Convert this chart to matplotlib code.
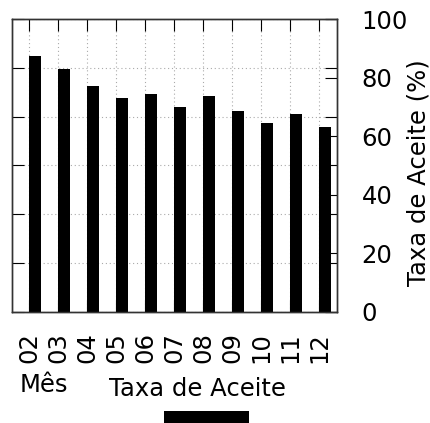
import matplotlib.pyplot as plt

MESES = ["02", "03", "04", "05", "06", "07", "08", "09", "10", "11", "12"]
TAXA_ACEITE = [87.5, 83.0, 77.2, 73.1, 74.4, 69.9, 73.6, 68.7, 64.6, 67.4, 63.2]
GRID_TICKS = [0, 20, 40, 60, 80, 100, 120]
RIGHT_TICKS = [0, 20, 40, 60, 80, 100]

FS = 17.5

fig = plt.figure(figsize=(4.3, 4.23), dpi=100)
ax = fig.add_axes([12 / 430, 1 - 311.7 / 423, 324.7 / 430, 292.7 / 423])
ax2 = ax.twinx()

pos = list(range(len(MESES)))
bars = ax2.bar(pos, TAXA_ACEITE, width=0.4, align="edge", color="black")

# eixo da esquerda: so grade e marcas (0-120)
ax.set_xlim(-0.6, 10.6)
ax.set_ylim(0, 120)
ax.set_yticks(GRID_TICKS)
ax.set_yticklabels([])
ax.set_xticks(pos)
ax.set_xticklabels(MESES, rotation=90, fontsize=FS)
ax.tick_params(axis="both", direction="in", length=8.6, width=0.8,
               top=True, right=True, left=True, bottom=True)
ax.tick_params(axis="x", pad=14.5)
ax.grid(True, linestyle=(0, (1, 2.5)), color="#aaaaaa", linewidth=0.8)

# eixo da direita: taxa 0-100
ax2.set_ylim(0, 100)
ax2.set_yticks(RIGHT_TICKS)
ax2.tick_params(axis="y", direction="in", length=8.6, width=0.8, labelsize=FS, pad=18)
ax2.set_ylabel("Taxa de Aceite (%)", fontsize=FS)
ax2.yaxis.set_label_coords(1.215, 0.475)

for a in (ax, ax2):
    for s in a.spines.values():
        s.set_linewidth(1.0)
        s.set_color("#333333")

ax.set_xlabel("Mês", fontsize=FS, ha="left")
ax.xaxis.set_label_coords(0.025, -0.21)

fig.legend(handles=[bars], labels=[""], title="Taxa de Aceite",
           title_fontsize=FS, fontsize=FS, frameon=False,
           loc="upper center", bbox_to_anchor=(197 / 430, 1 - 365 / 423),
           borderpad=0, handlelength=3.5, handleheight=1.6,
           handletextpad=-0.76, labelspacing=0.4)

fig.savefig("out.png", dpi=100)
